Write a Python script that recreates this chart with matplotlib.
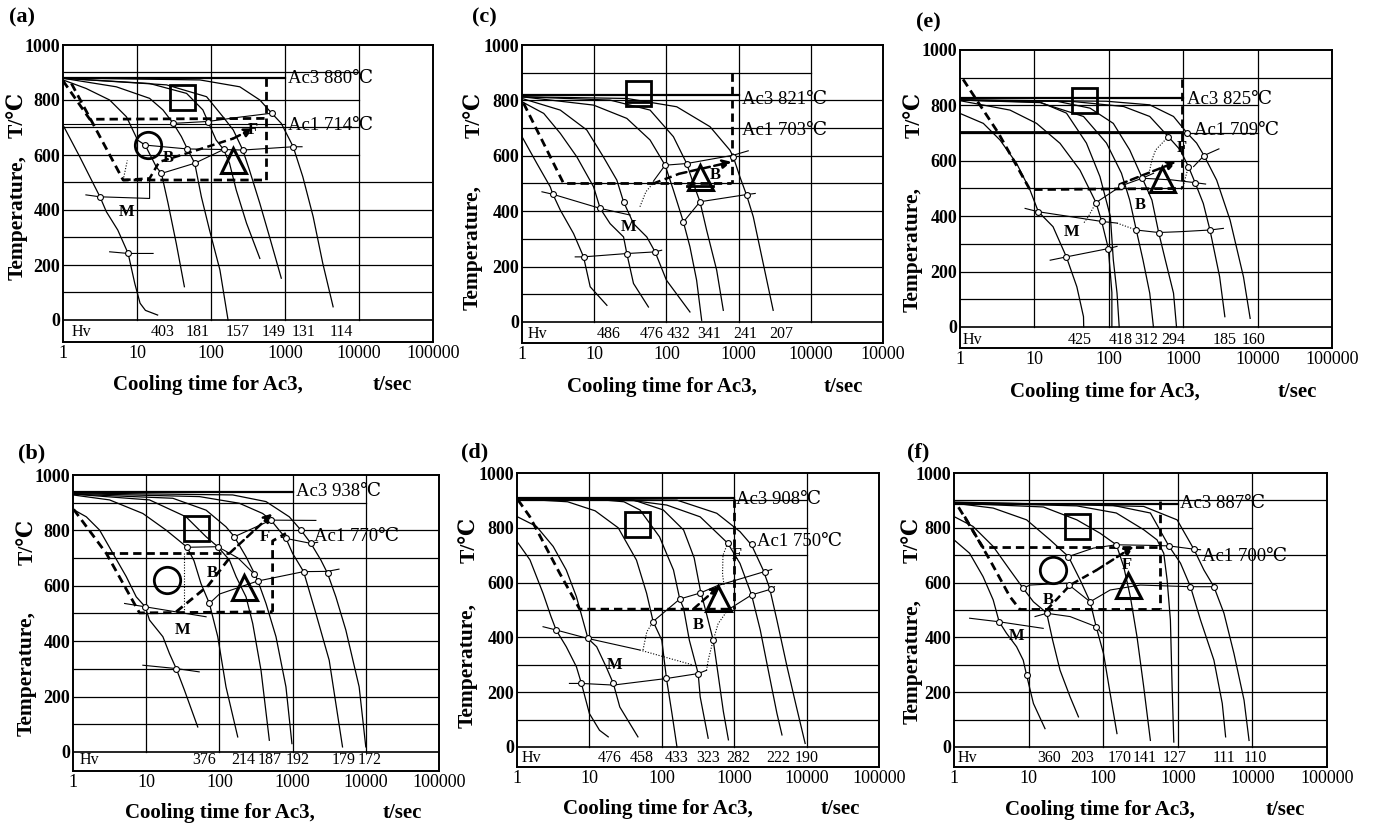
import matplotlib
matplotlib.use("Agg")
import matplotlib.pyplot as plt
import matplotlib.ticker as mticker

SERIF = ["Liberation Serif", "DejaVu Serif", "DejaVu Sans"]
plt.rcParams["font.family"] = SERIF

W, H = 1376, 823

# ---------------- common axis data ----------------
X_TICKS = [1, 10, 100, 1000, 10000, 100000]
X_TICK_LABELS = ["1", "10", "100", "1000", "10000", "100000"]
X_TICK_LABELS_C = ["1", "10", "100", "1000", "10000", "10000"]
Y_TICKS = [0, 200, 400, 600, 800, 1000]
GRID_T = [100, 200, 300, 400, 500, 600, 700, 800, 900]
GRID_X = [10, 100, 1000, 10000]

# ======================= panel (a) =======================
a_ac3, a_ac1 = 880, 714
a_curves = [
    [(1, 709), (1.68, 594), (2.69, 485), (3.16, 448), (3.85, 394), (5.5, 327), (7.59, 242), (9.33, 133), (11, 61), (13, 35), (19, 18)],
    [(1, 873), (2.05, 842), (4.27, 800), (7.2, 739), (10.2, 654), (12.9, 636), (18.2, 557), (21.4, 533), (26.3, 424), (33.9, 279), (43.7, 121)],
    [(1, 879), (5.25, 848), (14.8, 806), (22.4, 764), (30.9, 715), (39.8, 667), (47.9, 622), (60.3, 570), (74.1, 448), (95.5, 327), (132, 182), (170, 0)],
    [(1, 879), (14.8, 860), (46.8, 824), (77.6, 764), (91.2, 721), (117, 655), (148, 620), (178, 570), (219, 473), (302, 352), (457, 224)],
    [(1, 879), (25.1, 855), (87.1, 812), (145, 739), (200, 691), (269, 618), (331, 545), (457, 424), (617, 303), (891, 152)],
    [(1, 880), (70.8, 873), (245, 848), (457, 800), (661, 752), (891, 715), (1290, 630), (1740, 521), (2400, 376), (3240, 206), (4470, 48)],
]
a_markers = [(3.16, 448), (7.59, 242), (12.9, 636), (21.4, 533), (30.9, 715), (47.9, 622), (60.3, 570),
             (91.2, 721), (148, 620), (269, 618), (661, 752), (1290, 630)]
a_thin = [
    [(30.9, 715), (91.2, 722), (250, 738), (661, 752)],
    [(12.9, 636), (47.9, 622), (148, 620), (269, 618), (1290, 630), (1700, 630)],
    [(21.4, 533), (60.3, 570), (148, 620)],
    [(2.04, 455), (3.16, 448), (14.8, 442), (14.8, 515)],
    [(4.27, 248), (7.59, 242), (16.5, 242)],
    [(1, 714), (1000, 714)],
]
a_dotted = [[(6.5, 509), (7.4, 580)]]
a_dashed = [
    [(1, 870), (2.3, 730), (560, 733)],
    [(1.3, 860), (6.5, 509), (560, 509)],
    [(560, 880), (560, 509)],
]
a_arrow = [(6.5, 509), (14.8, 515), (20, 575), (60, 615), (200, 660), (371, 697)]
a_thick = []
a_square, a_circle, a_triangle = (40, 810), (14, 636), (200, 580)
a_letters = [("F", 371, 690), ("B", 26.3, 588), ("M", 7.2, 394)]
a_hv_x = [1.8, 22.4, 66, 229, 692, 1778, 5754]
a_hv_text = ["Hv", "403", "181", "157", "149", "131", "114"]
a_ac_text = [(1100, 879), (1100, 709)]

# ======================= panel (b) =======================
b_ac3, b_ac1 = 938, 770
b_curves = [
    [(1, 876), (1.52, 849), (2.31, 801), (3.51, 717), (5.34, 633), (7.31, 560), (9.69, 524), (11.1, 476), (16.9, 416), (20.8, 355), (25.7, 301), (33.3, 223), (50.6, 90)],
    [(1, 928), (3.16, 910), (9, 861), (18.7, 801), (29, 760), (36.2, 739), (45, 690), (56, 608), (73, 536), (95, 416), (123, 235), (178, 54)],
    [(1, 931), (11.1, 910), (35, 849), (65.8, 777), (95, 741), (137, 693), (169, 633), (231, 560), (285, 464), (370, 295), (481, 42)],
    [(1, 931), (23.1, 916), (65.8, 873), (123, 813), (160, 777), (231, 705), (300, 645), (333, 620), (433, 536), (593, 416), (811, 235), (979, 30)],
    [(1, 933), (53.4, 922), (187, 898), (390, 861), (507, 837), (658, 800), (811, 771), (1000, 717), (1413, 651), (2080, 500), (3162, 331), (4808, 18)],
    [(1, 935), (152, 928), (433, 904), (901, 849), (1300, 801), (1778, 753), (2432, 693), (3000, 645), (3900, 560), (5337, 440), (8110, 235), (10000, 18)],
]
b_markers = [(9.69, 524), (25.7, 301), (73, 536), (36.2, 739), (95, 741), (160, 777), (300, 642), (333, 617),
             (507, 837), (811, 771), (1300, 801), (1413, 651), (1778, 753), (3000, 645)]
b_thin = [
    [(36.2, 739), (95, 741), (180, 700), (300, 642)],
    [(160, 777), (507, 837), (2080, 836)],
    [(73, 536), (100, 570), (333, 617), (1413, 651), (3000, 652), (4300, 660)],
    [(700, 775), (811, 771), (1778, 753), (2200, 757)],
    [(5.07, 536), (9.69, 524), (65.8, 488)],
    [(9, 313), (25.7, 301), (53, 289)],
]
b_dotted = [[(33.3, 717), (33.3, 510)]]
b_dashed = [
    [(1.02, 876), (2.85, 717), (8.1, 502), (533, 506)],
    [(2.85, 717), (137, 717)],
    [(533, 506), (533, 762), (811, 789)],
    [(25.7, 506), (70, 600), (137, 700)],
]
b_arrow = [(137, 717), (533, 861)]
b_thick = []
b_square, b_circle, b_triangle = (48, 807), (19, 620), (219, 596)
b_letters = [("F", 411, 777), ("B", 81, 645), ("M", 31.6, 440)]
b_hv_x = [1.7, 62.4, 214, 479, 1175, 5012, 11300]
b_hv_text = ["Hv", "376", "214", "187", "192", "179", "172"]
b_ac_text = [(1110, 940), (1972, 777)]

# ======================= panel (c) =======================
c_ac3, c_ac1 = 821, 703
c_curves = [
    [(1, 669), (1.61, 572), (2.46, 488), (2.68, 461), (3.39, 404), (5.18, 319), (7.12, 235), (8.8, 127), (15, 60)],
    [(1, 795), (2.0, 753), (3.39, 681), (5.75, 596), (9.8, 488), (12.1, 410), (16.6, 355), (25.5, 307), (28.3, 247), (35, 139), (56.4, 54)],
    [(1, 807), (3.39, 765), (7.9, 693), (13.4, 596), (20.6, 512), (25.5, 434), (35, 355), (53.5, 307), (69.7, 253), (100, 151), (212, 36)],
    [(1, 813), (9.8, 783), (28.3, 735), (59.4, 657), (95.9, 566), (125, 476), (172, 361), (212, 271), (262, 151), (308, 6)],
    [(1, 813), (16.6, 801), (59.4, 765), (125, 669), (191, 572), (236, 500), (292, 434), (361, 331), (497, 187), (614, 42)],
    [(1, 813), (28.3, 807), (139, 777), (402, 705), (759, 620), (844, 596), (1042, 524), (1290, 458), (1596, 380), (2193, 211), (3013, 42)],
]
c_markers = [(2.68, 461), (12.1, 410), (25.5, 434), (7.12, 235), (28.3, 247), (69.7, 253), (95.9, 566),
             (191, 572), (172, 361), (292, 434), (844, 596), (1290, 458)]
c_thin = [
    [(66, 508), (95.9, 566), (191, 572), (844, 602), (1360, 618)],
    [(172, 361), (292, 434), (1290, 460), (1700, 464)],
    [(1.89, 470), (2.68, 461), (12.1, 410), (31.5, 386)],
    [(5.46, 235), (7.12, 235), (28.3, 247), (69.7, 253), (86, 259)],
]
c_dotted = [[(43, 416), (52, 470), (66, 502)]]
c_dashed = [
    [(1.05, 790), (3.77, 500), (800, 500)],
    [(800, 898), (800, 500)],
]
c_arrow = [(66, 500), (150, 535), (800, 578)]
c_thick = [[(28, 795), (59, 795)], [(190, 490), (440, 490)]]
c_square, c_circle, c_triangle = (40, 827), None, (292, 524)
c_letters = [("B", 471, 530), ("M", 29.8, 343)]
c_hv_x = [1.62, 15.9, 63, 148, 389, 1230, 3890]
c_hv_text = ["Hv", "486", "476", "432", "341", "241", "207"]
c_ac_text = [(1100, 805), (1100, 693)]

# ======================= panel (d) =======================
d_ac3, d_ac1 = 908, 750
d_curves = [
    [(1, 750), (1.51, 683), (2.29, 561), (2.95, 476), (3.47, 427), (4.79, 366), (6.61, 293), (7.76, 232), (10, 122), (13.8, 61), (18.2, 37)],
    [(1, 841), (1.86, 805), (3.16, 732), (4.79, 646), (6.61, 549), (9.55, 396), (12.6, 366), (17, 293), (21.4, 232), (26.3, 146), (46.8, 37)],
    [(1, 906), (5, 895), (12, 862), (25, 800), (44.7, 682), (61.7, 561), (75.9, 458), (100, 390), (116, 250), (138, 123), (162, 0)],
    [(1, 906), (15, 902), (30, 895), (50, 865), (93, 767), (145, 646), (177, 540), (200, 506), (240, 390), (318, 268), (339, 183), (437, 32)],
    [(1, 906), (20, 904), (41, 901), (105, 865), (200, 792), (280, 690), (339, 575), (420, 480), (513, 390), (603, 260), (708, 130), (832, 26)],
    [(1, 906), (40.7, 899), (117, 883), (339, 840), (813, 744), (1202, 670), (1738, 555), (2291, 427), (2951, 281), (3890, 123), (4571, 44)],
    [(1, 906), (162, 901), (575, 853), (1202, 786), (1738, 737), (2512, 646), (3090, 579), (3890, 463), (5370, 293), (7244, 146), (9550, 13)],
]
d_markers = [(3.47, 427), (7.76, 232), (9.55, 396), (21.4, 232), (75.9, 458), (116, 250), (177, 540), (318, 268),
             (339, 562), (513, 390), (813, 744), (1738, 740), (2690, 637), (1738, 555), (3214, 576)]
d_thin = [
    [(75.9, 458), (177, 540), (339, 562), (575, 588), (3300, 648)],
    [(813, 500), (1738, 555), (3214, 576), (3600, 585)],
    [(2.29, 439), (3.47, 427), (9.55, 396), (49.6, 354)],
    [(5.3, 232), (7.76, 232), (21.4, 226), (116, 250), (318, 268), (415, 280)],
]
d_dotted = [[(49.6, 354), (271, 299)], [(55, 354), (62, 420), (75.9, 458)],
            [(813, 500), (600, 450), (513, 390), (440, 320), (415, 280)],
            [(813, 744), (700, 700), (690, 630), (730, 585)]]
d_dashed = [
    [(1.03, 902), (1.5, 841), (3.89, 634), (7.35, 503), (990, 503)],
    [(990, 906), (990, 503)],
]
d_arrow = [(271, 503), (631, 588)]
d_thick = []
d_square, d_circle, d_triangle = (46, 814), None, (603, 545)
d_letters = [("F", 1072, 700), ("B", 316, 445), ("M", 22.4, 299)]
d_hv_x = [1.6, 19, 52.5, 158, 437, 1150, 4070, 10000]
d_hv_text = ["Hv", "476", "458", "433", "323", "282", "222", "190"]
d_ac_text = [(1072, 902), (2040, 749)]

# ======================= panel (e) =======================
e_ac3, e_ac1 = 825, 709
e_curves = [
    [(1, 771), (2.06, 735), (3.45, 675), (5.78, 590), (8.74, 494), (11.3, 416), (17.8, 362), (26.9, 253), (37.2, 145), (45.7, 37), (46, 0)],
    [(1, 817), (4.7, 783), (10.7, 735), (22.1, 663), (41, 566), (67.3, 449), (80.2, 381), (98.6, 283), (110, 124), (110, 0)],
    [(1, 819), (11.9, 812), (27, 772), (50, 664), (76, 543), (105, 399), (115, 242), (129, 122), (138, 0)],
    [(1, 819), (11.9, 810), (45.7, 760), (93, 664), (148, 555), (191, 458), (234, 350), (288, 242), (355, 122), (398, 0)],
    [(1, 819), (20, 815), (56, 790), (115, 735), (191, 639), (282, 537), (380, 458), (468, 341), (575, 242), (741, 122), (813, 0)],
    [(1, 819), (33, 814), (158, 796), (355, 760), (631, 687), (912, 639), (1175, 579), (1445, 521), (1862, 446), (2290, 350), (3090, 181), (3630, 37)],
    [(1, 820), (93, 815), (355, 802), (741, 760), (1122, 701), (1514, 664), (1905, 619), (2818, 530), (4266, 386), (6457, 181), (7943, 31)],
]
e_markers = [(11.3, 416), (26.9, 253), (67.3, 449), (80.2, 381), (98.6, 283), (148, 510), (282, 537), (234, 350),
             (468, 341), (631, 687), (1122, 701), (1175, 579), (1445, 521), (1905, 619), (2290, 350)]
e_thin = [
    [(7.5, 428), (11.3, 416), (80.2, 381), (129, 375)],
    [(234, 350), (468, 341), (912, 344), (2290, 350), (3470, 356)],
    [(16.3, 241), (26.9, 253), (98.6, 283), (129, 291)],
    [(67.3, 449), (148, 510), (282, 537), (400, 555)],
    [(282, 537), (700, 531), (1445, 521), (2000, 516)],
    [(1380, 579), (1905, 619), (3020, 643)],
]
e_dotted = [[(129, 375), (234, 350)], [(631, 687), (426, 639), (380, 603), (347, 555)],
            [(1175, 579), (1050, 530), (1000, 505)], [(67.3, 449), (53, 398), (46, 375)]]
e_dashed = [
    [(1.1, 894), (3.3, 699), (8.7, 496), (955, 500)],
    [(955, 894), (955, 500)],
]
e_arrow = [(140, 515), (813, 596)]
e_thick = [[(1, 705), (955, 705)]]
e_square, e_circle, e_triangle = (47, 821), None, (513, 535)
e_letters = [("F", 955, 645), ("B", 263, 440), ("M", 31.6, 344)]
e_hv_x = [1.45, 41, 143, 320, 745, 3630, 8800]
e_hv_text = ["Hv", "425", "418", "312", "294", "185", "160"]
e_ac_text = [(1122, 820), (1380, 711)]

# ======================= panel (f) =======================
f_ac3, f_ac1 = 887, 700
f_curves = [
    [(1, 756), (1.62, 707), (2.45, 622), (3.35, 537), (4.03, 457), (5.06, 415), (6.9, 366), (8.47, 317), (9.4, 262), (11.6, 159), (16.6, 67)],
    [(1, 841), (1.8, 805), (3.35, 732), (5.62, 646), (8.47, 579), (11.6, 530), (15.7, 500), (17.5, 488), (21, 390), (26.4, 280), (36, 183), (46.6, 110)],
    [(1, 890), (3.35, 872), (9.4, 829), (19.4, 756), (34.2, 695), (49, 610), (66.8, 530), (80.5, 439), (101, 341), (124, 195), (153, 49)],
    [(1, 890), (15.8, 876), (44.3, 829), (91, 780), (150, 738), (188, 659), (231, 549), (284, 402), (349, 220), (429, 24)],
    [(1, 892), (44.3, 880), (150, 854), (349, 793), (527, 756), (648, 707), (719, 610), (796, 463), (839, 220), (884, 18)],
    [(1, 892), (124, 884), (429, 854), (757, 734), (1086, 671), (1479, 585), (2018, 463), (3048, 317), (3945, 159), (4376, 37)],
    [(1, 894), (349, 878), (979, 829), (1641, 722), (2239, 646), (3048, 585), (4159, 488), (5662, 341), (7727, 171), (9020, 24)],
]
f_markers = [(4.03, 457), (9.4, 262), (8.47, 579), (17.5, 488), (34.2, 695), (35.2, 593), (66.8, 530), (80.5, 439),
             (150, 738), (757, 734), (1641, 722), (1479, 585), (3048, 585)]
f_thin = [
    [(34.2, 695), (74, 726), (150, 738), (400, 736), (757, 734), (1641, 722), (2018, 720)],
    [(8.47, 579), (10.4, 591), (32.4, 598), (66.8, 530)],
    [(66.8, 530), (124, 573), (315, 591), (1479, 585), (3048, 585)],
    [(12.2, 476), (17.5, 488), (36, 476), (80.5, 439), (96, 415)],
    [(1.62, 470), (4.03, 457), (15.7, 433)],
]
f_dotted = []
f_dashed = [
    [(1.15, 875), (2.45, 728), (585, 728)],
    [(1.39, 841), (3.02, 683), (5.61, 549), (7.64, 502), (585, 502)],
    [(585, 896), (585, 502)],
]
f_arrow = [(17.5, 500), (36, 591), (82, 646), (256, 732)]
f_thick = []
f_square, f_circle, f_triangle = (45, 808), (21.4, 646), (214, 591)
f_letters = [("F", 208, 665), ("B", 18.4, 537), ("M", 6.9, 405)]
f_hv_x = [1.5, 18.6, 52, 165, 355, 912, 4170, 10900]
f_hv_text = ["Hv", "360", "203", "170", "141", "127", "111", "110"]
f_ac_text = [(1086, 890), (2125, 695)]

# ---------------- layout (pixels) ----------------
LAYOUT = {
    "a": dict(box=(63, 45, 433, 342), lab=(22, 17), xl=(208, 385), ts=(392, 385), yl=(18, 218), tc=(18, 115),
              ybot=-80, hv_y=-42, short=[600, 700, 800, 900], xtl=X_TICK_LABELS),
    "c": dict(box=(522, 45, 883, 343), lab=(484, 17), xl=(662, 387), ts=(843, 387), yl=(473, 247), tc=(475, 115),
              ybot=-76, hv_y=-42, short=[900], xtl=X_TICK_LABELS_C),
    "e": dict(box=(960, 50, 1332, 348), lab=(928, 22), xl=(1105, 392), ts=(1297, 392), yl=(913, 250), tc=(915, 115),
              ybot=-76, hv_y=-48, short=[600, 700, 800], xtl=X_TICK_LABELS),
    "b": dict(box=(73, 475, 439, 771), lab=(32, 453), xl=(220, 813), ts=(402, 813), yl=(27, 673), tc=(28, 542),
              ybot=-69, hv_y=-30, short=[900], xtl=X_TICK_LABELS),
    "d": dict(box=(517, 473, 879, 767), lab=(475, 452), xl=(658, 809), ts=(840, 809), yl=(468, 665), tc=(470, 540),
              ybot=-73, hv_y=-40, short=[700, 800, 900], xtl=X_TICK_LABELS),
    "f": dict(box=(954, 473, 1327, 767), lab=(918, 452), xl=(1100, 810), ts=(1285, 810), yl=(913, 662), tc=(913, 540),
              ybot=-73, hv_y=-40, short=[600, 800], xtl=X_TICK_LABELS),
}

PANELS = {
    "a": dict(ac3=a_ac3, ac1=a_ac1, curves=a_curves, markers=a_markers, thin=a_thin, dotted=a_dotted, dashed=a_dashed,
              arrow=a_arrow, thick=a_thick, square=a_square, circle=a_circle, triangle=a_triangle, letters=a_letters,
              hv_x=a_hv_x, hv_text=a_hv_text, ac_text=a_ac_text),
    "b": dict(ac3=b_ac3, ac1=b_ac1, curves=b_curves, markers=b_markers, thin=b_thin, dotted=b_dotted, dashed=b_dashed,
              arrow=b_arrow, thick=b_thick, square=b_square, circle=b_circle, triangle=b_triangle, letters=b_letters,
              hv_x=b_hv_x, hv_text=b_hv_text, ac_text=b_ac_text),
    "c": dict(ac3=c_ac3, ac1=c_ac1, curves=c_curves, markers=c_markers, thin=c_thin, dotted=c_dotted, dashed=c_dashed,
              arrow=c_arrow, thick=c_thick, square=c_square, circle=c_circle, triangle=c_triangle, letters=c_letters,
              hv_x=c_hv_x, hv_text=c_hv_text, ac_text=c_ac_text),
    "d": dict(ac3=d_ac3, ac1=d_ac1, curves=d_curves, markers=d_markers, thin=d_thin, dotted=d_dotted, dashed=d_dashed,
              arrow=d_arrow, thick=d_thick, square=d_square, circle=d_circle, triangle=d_triangle, letters=d_letters,
              hv_x=d_hv_x, hv_text=d_hv_text, ac_text=d_ac_text),
    "e": dict(ac3=e_ac3, ac1=e_ac1, curves=e_curves, markers=e_markers, thin=e_thin, dotted=e_dotted, dashed=e_dashed,
              arrow=e_arrow, thick=e_thick, square=e_square, circle=e_circle, triangle=e_triangle, letters=e_letters,
              hv_x=e_hv_x, hv_text=e_hv_text, ac_text=e_ac_text),
    "f": dict(ac3=f_ac3, ac1=f_ac1, curves=f_curves, markers=f_markers, thin=f_thin, dotted=f_dotted, dashed=f_dashed,
              arrow=f_arrow, thick=f_thick, square=f_square, circle=f_circle, triangle=f_triangle, letters=f_letters,
              hv_x=f_hv_x, hv_text=f_hv_text, ac_text=f_ac_text),
}

fig = plt.figure(figsize=(W / 100, H / 100), dpi=100)
fig.patch.set_facecolor("white")


def xy(pts):
    return [p[0] for p in pts], [p[1] for p in pts]


def draw_panel(key):
    P, L = PANELS[key], LAYOUT[key]
    l, t, r, b = L["box"]
    ax = fig.add_axes([l / W, 1 - b / H, (r - l) / W, (b - t) / H])
    ax.set_xscale("log")
    ax.set_xlim(X_TICKS[0], X_TICKS[-1])
    ax.set_ylim(L["ybot"], Y_TICKS[-1])
    ax.xaxis.set_minor_locator(mticker.NullLocator())
    ax.set_xticks(X_TICKS)
    ax.set_xticklabels(L["xtl"], fontsize=13)
    ax.set_yticks(Y_TICKS)
    ax.set_yticklabels([str(v) for v in Y_TICKS], fontsize=13, fontweight="bold")
    ax.tick_params(length=0, pad=2)
    for s in ax.spines.values():
        s.set_linewidth(1.4)

    # grid
    for tv in GRID_T:
        xe = GRID_X[-1] if tv in L["short"] else X_TICKS[-1]
        ax.plot([X_TICKS[0], xe], [tv, tv], color="k", lw=0.9, zorder=1)
    ax.plot([X_TICKS[0], X_TICKS[-1]], [0, 0], color="k", lw=1.2, zorder=1)
    for gx in GRID_X:
        ax.plot([gx, gx], [0, Y_TICKS[-1]], color="k", lw=0.9, zorder=1)

    # Ac3 line
    ax.plot([X_TICKS[0], 1000], [P["ac3"], P["ac3"]], color="k", lw=1.6, zorder=2)
    for seg in P["thick"]:
        xs, ys = xy(seg)
        ax.plot(xs, ys, color="k", lw=2.0, zorder=2)

    # cooling curves
    for c in P["curves"]:
        xs, ys = xy(c)
        ax.plot(xs, ys, color="k", lw=0.9, zorder=3)
    for c in P["thin"]:
        xs, ys = xy(c)
        ax.plot(xs, ys, color="k", lw=0.8, zorder=3)
    for c in P["dotted"]:
        xs, ys = xy(c)
        ax.plot(xs, ys, color="k", lw=0.8, ls=(0, (1, 1.5)), zorder=3)
    for c in P["dashed"]:
        xs, ys = xy(c)
        ax.plot(xs, ys, color="k", lw=2.0, ls=(0, (3, 1.8)), zorder=4)
    xs, ys = xy(P["arrow"])
    ax.plot(xs[:-1], ys[:-1], color="k", lw=1.8, ls=(0, (3, 1.8)), zorder=4)
    ax.annotate("", xy=P["arrow"][-1], xytext=P["arrow"][-2],
                arrowprops=dict(arrowstyle="-|>", color="k", lw=1.8, ls=(0, (3, 1.8)),
                                mutation_scale=13, shrinkA=0, shrinkB=0), zorder=4)

    # markers
    mx, my = xy(P["markers"])
    ax.plot(mx, my, "o", ms=4.2, mfc="white", mec="k", mew=0.8, ls="none", zorder=6)

    # symbols
    if P["square"]:
        ax.plot([P["square"][0]], [P["square"][1]], marker="s", ms=18, mfc="none", mec="k", mew=2.0, zorder=7)
    if P["circle"]:
        ax.plot([P["circle"][0]], [P["circle"][1]], marker="o", ms=19, mfc="none", mec="k", mew=2.0, zorder=7)
    if P["triangle"]:
        ax.plot([P["triangle"][0]], [P["triangle"][1]], marker="^", ms=18, mfc="none", mec="k", mew=2.2, zorder=7)

    for txt, x, y in P["letters"]:
        ax.text(x, y, txt, fontsize=12, fontweight="bold", ha="center", va="center", zorder=8)

    (x3, y3), (x1, y1) = P["ac_text"]
    ax.text(x3, y3, "Ac3 %d\u2103" % P["ac3"], fontsize=13.5, ha="left", va="center", zorder=8)
    ax.text(x1, y1, "Ac1 %d\u2103" % P["ac1"], fontsize=13.5, ha="left", va="center", zorder=8)

    for x, txt in zip(P["hv_x"], P["hv_text"]):
        ax.text(x, L["hv_y"], txt, fontsize=11.5, ha="center", va="center", zorder=8)

    # labels
    fig.text(L["lab"][0] / W, 1 - L["lab"][1] / H, "(%s)" % key, fontsize=16, fontweight="bold",
             ha="center", va="center")
    fig.text(L["xl"][0] / W, 1 - L["xl"][1] / H, "Cooling time for Ac3,", fontsize=15, fontweight="bold",
             ha="center", va="center")
    fig.text(L["ts"][0] / W, 1 - L["ts"][1] / H, "t/sec", fontsize=15, fontweight="bold",
             ha="center", va="center")
    fig.text(L["yl"][0] / W, 1 - L["yl"][1] / H, "Temperature,", fontsize=15.5, fontweight="bold",
             ha="center", va="center", rotation=90)
    fig.text(L["tc"][0] / W, 1 - L["tc"][1] / H, "T/\u2103", fontsize=15.5, fontweight="bold",
             ha="center", va="center", rotation=90)


for k in ["a", "b", "c", "d", "e", "f"]:
    draw_panel(k)

fig.savefig("out.png", dpi=100, facecolor="white")
